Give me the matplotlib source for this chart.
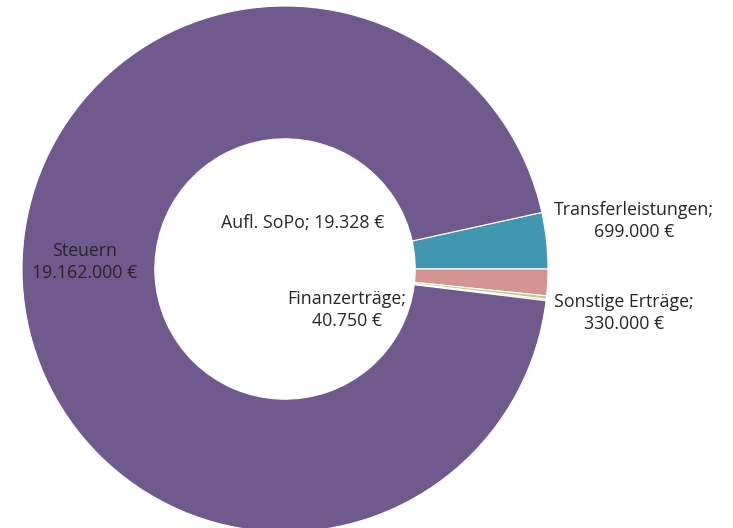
import matplotlib
matplotlib.use("Agg")
import matplotlib.pyplot as plt
import numpy as np

# data (clockwise order as drawn)
labels = ["Transferleistungen", "Sonstige Erträge", "Finanzerträge", "Aufl. SoPo", "Steuern"]
values = [699000, 330000, 40750, 19328, 19162000]
value_text = ["699.000 €", "330.000 €", "40.750 €", "19.328 €", "19.162.000 €"]
colors = ["#4197AF", "#D49492", "#B4CE8C", "#E8A25E", "#70598D"]

W, H = 733, 528
CX, CY, R = 285, 269, 263  # pixel centre and radius of the ring

fig = plt.figure(figsize=(W / 100, H / 100), dpi=100)
ax = fig.add_axes([0, 0, 1, 1])

start = 360 * values[0] / sum(values)
ax.pie(values, colors=colors, startangle=start, counterclock=False, radius=1,
       wedgeprops=dict(width=0.505, edgecolor="white", linewidth=0.8))

ax.set_xlim(-CX / R, (W - CX) / R)
ax.set_ylim(-(H - CY) / R, CY / R)
ax.axis("off")


def px(x, y):
    return (x - CX) / R, (CY - y) / R


font = dict(family=["Open Sans", "DejaVu Sans"], fontsize=12.8, color="#262626",
            ha="center", va="center", linespacing=1.35)

# label positions in pixel coords of the reference
ax.text(*px(634, 221), f"{labels[0]};\n{value_text[0]}", **font)
ax.text(*px(624, 313), f"{labels[1]};\n{value_text[1]}", **font)
ax.text(*px(347, 310), f"{labels[2]};\n{value_text[2]}", **font)
ax.text(*px(303, 223), f"{labels[3]}; {value_text[3]}", **font)
ax.text(*px(85, 262), f"{labels[4]}\n{value_text[4]}", **font)

fig.savefig("out.png", dpi=100)
